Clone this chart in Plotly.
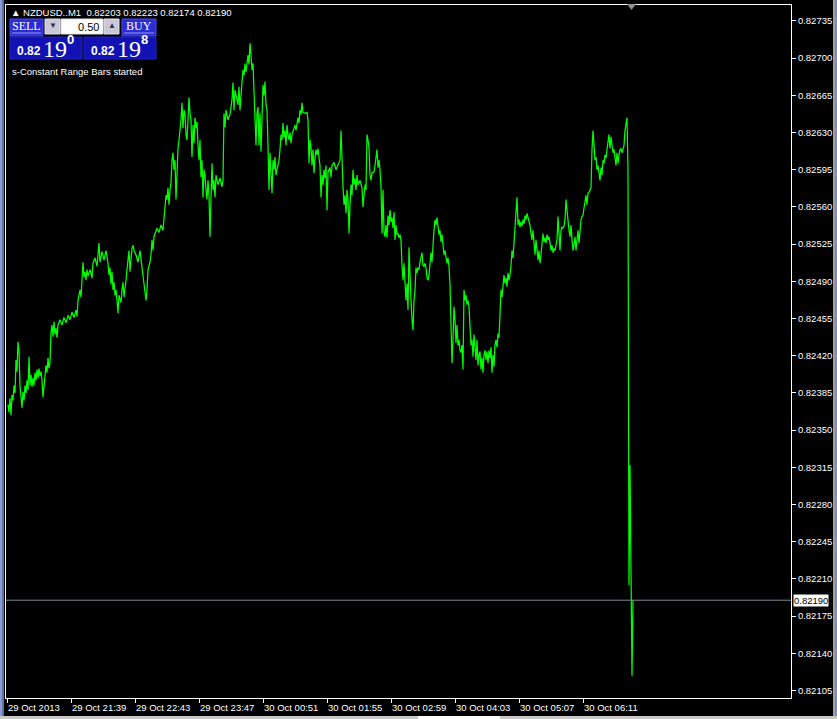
import plotly.graph_objects as go
import pandas as pd

# ---------------- data ----------------
symbol = "NZDUSD..M1"
last_bar_ohlc = [0.82203, 0.82223, 0.82174, 0.82190]   # open, high, low, close
session_start = "2013-10-29 20:35"
price_base = 0.82000          # close prices are stored in points (1e-5) above this base

minute_offset = (
    list(range(1, 44))
    + [44, 45, 46, 47, 48, 49, 50, 51, 53, 55, 57, 59, 61, 63, 65, 67, 69, 70, 71, 72, 73,
       74, 75, 76, 77, 78, 79, 80, 81, 83, 85, 86, 88, 90, 92, 93, 95, 97, 99, 101, 102]
    + list(range(103, 128))
    + [129, 131, 133, 135, 137, 139, 140, 141, 143, 144, 145, 146, 147, 148, 150, 152, 154, 156]
    + list(range(157, 210))
    + [211, 213, 215, 216, 217, 218, 219, 221, 223, 225, 226, 227, 228, 229, 231]
    + list(range(232, 251))
    + list(range(251, 297))
    + [298, 300]
    + list(range(301, 322))
    + [323, 324, 325, 327, 329, 331]
    + list(range(333, 352))
    + [353, 355]
    + list(range(356, 366))
    + list(range(367, 376))
    + list(range(376, 504))
    + list(range(504, 627))
)

close_points = (
    [374, 367, 380, 364, 383, 378, 392, 385, 416, 405, 433, 425, 392, 378, 371, 386, 378, 392,
     385, 397, 388, 419, 392, 402, 391, 399, 392, 404, 397, 407, 399, 408, 401, 405, 397, 381,
     392, 405, 411, 404, 418, 408, 414]
    + [442, 449, 438, 452, 440, 446, 437, 449, 454, 449, 456, 451, 458, 454, 461, 456, 463, 457,
       472, 477, 482, 475, 501, 508, 494, 499, 491, 501, 495, 501, 493, 507, 512, 504, 526, 508,
       518, 510, 519, 507, 496]
    + [503, 487, 499, 482, 489, 477, 482, 472, 460, 477, 472, 470, 482, 489, 475, 487, 491, 501,
       508, 519, 499, 512, 521, 524, 519]
    + [515, 508, 519, 503, 487, 472, 482, 501, 508, 515, 529, 519, 532, 535, 540, 536, 543, 538]
    + [546, 560, 571, 567, 578, 562, 576, 583, 604, 611, 595, 604, 567, 599, 615, 623, 630, 642,
       658, 634, 651, 647, 628, 623, 642, 663, 648, 642, 607, 637, 620, 644, 634, 640, 618, 604,
       623, 588, 604, 569, 595, 590, 576, 567, 585, 571, 532, 581, 601, 576, 585, 569, 590]
    + [581, 587, 579, 585, 648, 635, 651, 642, 647, 661, 677, 651, 670, 665, 656]
    + [673, 651, 665, 679, 689, 684, 695, 687, 698, 703, 694, 714, 703, 689, 695, 670, 648, 618,
       648]
    + [654, 618, 648, 612, 661, 675, 665, 678, 656, 651, 618, 576, 611, 590, 573, 604, 595, 607,
       590, 595, 599, 604, 614, 628, 623, 639, 625, 632, 618, 637, 628, 623, 630, 620, 628, 632,
       634, 637, 632, 637, 644, 639, 651, 647, 658, 649]
    + [648, 649]
    + [642, 601, 623, 616, 599, 614, 592, 606, 614, 609, 615, 607, 599, 569, 590, 581, 595, 587,
       599, 557, 593]
    + [597, 588, 599, 602, 595, 599]
    + [604, 632, 597, 579, 562, 571, 554, 576, 567, 535, 562, 581, 571, 595, 581, 587, 576, 590,
       581]
    + [585, 578]
    + [560, 571, 581, 576, 628, 623, 616, 590, 585, 592]
    + [593, 599, 609, 614, 597, 604, 595, 579, 535]
    + [576, 536, 532, 543, 531, 552, 543, 557, 546, 550, 540, 555, 529, 543, 534, 535, 531, 534,
       529, 505, 491, 507, 487, 472, 488, 463, 522, 482, 472, 454, 444, 472, 482, 503, 498, 503,
       501, 508, 515, 517, 505, 504, 507, 503, 493, 491, 496, 510, 517, 508, 529, 538, 548, 543,
       550, 540, 534, 538, 527, 534, 521, 515, 519, 510, 507, 512, 504, 487, 444, 413, 435, 466,
       454, 432, 449, 430, 435, 425, 423, 430, 407, 482, 472, 477, 468, 472, 466, 440, 430, 435,
       419, 440, 430, 416, 435, 411, 421, 424, 407, 418, 404, 421, 425, 416, 424, 413, 425, 418,
       428, 404, 421, 410, 430, 435, 428, 441, 437, 472, 482, 475, 487, 496, 488, 493, 485, 498,
       491, 496]
    + [505, 519, 512, 526, 536, 552, 569, 543, 548, 541, 546, 542, 548, 544, 552, 548, 554, 550,
       546, 543, 535, 529, 538, 524, 515, 529, 519, 510, 519, 507, 515, 529, 535, 527, 531, 526,
       534, 529, 532, 526, 519, 524, 517, 521, 519, 524, 529, 551, 534, 519, 538, 541, 540, 542,
       548, 567, 557, 543, 538, 532, 543, 529, 519, 524, 532, 519, 529, 538, 526, 543, 548, 551,
       552, 559, 567, 571, 562, 573, 574, 576, 578, 614, 632, 618, 604, 607, 595, 599, 592, 585,
       597, 590, 604, 601, 609, 606, 614, 623, 628, 615, 626, 618, 611, 614, 606, 599, 611, 601,
       609, 614, 615, 611, 614, 618, 632, 640, 644, 595, 204, 317, 218, 119, 190]
)
assert len(minute_offset) == len(close_points)

tick_times = ["2013-10-29 20:35", "2013-10-29 21:39", "2013-10-29 22:43", "2013-10-29 23:47",
              "2013-10-30 00:51", "2013-10-30 01:55", "2013-10-30 02:59", "2013-10-30 04:03",
              "2013-10-30 05:07", "2013-10-30 06:11"]
tick_labels = ["29 Oct 2013", "29 Oct 21:39", "29 Oct 22:43", "29 Oct 23:47", "30 Oct 00:51",
               "30 Oct 01:55", "30 Oct 02:59", "30 Oct 04:03", "30 Oct 05:07", "30 Oct 06:11"]
price_ticks = [0.82105, 0.82140, 0.82175, 0.82210, 0.82245, 0.82280, 0.82315, 0.82350, 0.82385,
               0.82420, 0.82455, 0.82490, 0.82525, 0.82560, 0.82595, 0.82630, 0.82665, 0.82700,
               0.82735]
price_range = [0.82098, 0.82750]
lot_size = "0.50"
sell_quote = ["0.82", "19", "0"]
buy_quote = ["0.82", "19", "8"]
status_text = "s-Constant Range Bars started"

# ---------------- build ----------------
start = pd.Timestamp(session_start)
times = [start + pd.Timedelta(minutes=m) for m in minute_offset]
prices = [price_base + p / 100000 for p in close_points]
bid = last_bar_ohlc[3]

W, H = 837, 719
L, R, T, B = 6, 46, 5, 21
PW, PH = W - L - R, H - T - B
FONT = "Liberation Sans"


def px(x):
    return (x - L) / PW


def py(y):
    return (H - B - y) / PH


fig = go.Figure()
fig.add_trace(go.Scatter(x=times, y=prices, mode="lines",
                         line=dict(color="#00ff00", width=1.25), hoverinfo="skip",
                         showlegend=False))

shapes = []
annotations = []

# bid line
shapes.append(dict(type="line", xref="paper", yref="y", x0=0, x1=1, y0=bid, y1=bid,
                   line=dict(color="#7d8b99", width=1), layer="above"))
annotations.append(dict(xref="paper", yref="y", x=1, y=bid, xanchor="left", yanchor="middle",
                        xshift=2, text=f"{bid:.5f}", showarrow=False, bgcolor="#ffffff",
                        borderpad=0, font=dict(family=FONT, size=9.5, color="#000000")))

# x tick labels (left aligned at their ticks)
for t, lab in zip(tick_times, tick_labels):
    annotations.append(dict(xref="x", yref="paper", x=t, y=0, xanchor="left", yanchor="top",
                            yshift=-2, xshift=-1, text=lab, showarrow=False,
                            font=dict(family=FONT, size=9.5, color="#ffffff")))

# header
o, h, lo, c = last_bar_ohlc
annotations.append(dict(xref="paper", yref="paper", x=px(9), y=py(13), xanchor="left",
                        yanchor="middle", showarrow=False,
                        text=f"▲ {symbol}  {o:.5f} {h:.5f} {lo:.5f} {c:.5f}",
                        font=dict(family=FONT, size=9.5, color="#ffffff")))


def rect(x0, y0, x1, y1, fill, line=None):
    shapes.append(dict(type="rect", xref="paper", yref="paper", x0=px(x0), x1=px(x1),
                       y0=py(y1), y1=py(y0), fillcolor=fill,
                       line=dict(width=1 if line else 0, color=line or fill), layer="above"))


def text(x, y, s, size, color="#ffffff", family=FONT, anchor="left", bold=False):
    if bold:
        s = f"<b>{s}</b>"
    annotations.append(dict(xref="paper", yref="paper", x=px(x), y=py(y), xanchor=anchor,
                            yanchor="middle", text=s, showarrow=False,
                            font=dict(family=family, size=size, color=color)))


# one-click trading panel
rect(10, 19, 43, 36, "#2c2cd4", "#4a4af0")
shapes.append(dict(type="line", xref="paper", yref="paper", x0=px(12), x1=px(41), y0=py(33),
                   y1=py(33), line=dict(color="#9c9cf0", width=1), layer="above"))
text(26.5, 26, "SELL", 12, family="Liberation Serif", anchor="center")
rect(45, 19, 60, 34, "#c8c8d8", "#e0e0ec")
text(52.5, 26, "▼", 8, color="#303050", anchor="center")
rect(61, 19, 103, 34, "#ffffff", "#e0e0e0")
text(101, 26.5, lot_size, 11, color="#000000", anchor="right")
rect(104, 19, 119, 34, "#c8c8d8", "#e0e0ec")
text(111.5, 26, "▲", 8, color="#303050", anchor="center")
rect(122, 19, 156, 36, "#2c2cd4", "#4a4af0")
shapes.append(dict(type="line", xref="paper", yref="paper", x0=px(124), x1=px(154), y0=py(33),
                   y1=py(33), line=dict(color="#9c9cf0", width=1), layer="above"))
text(139, 26, "BUY", 12, family="Liberation Serif", anchor="center")

for bx, quote in ((10, sell_quote), (84, buy_quote)):
    rect(bx, 37, bx + 72, 59, "#1212b4", "#2020c8")
    text(bx + 5, 51, quote[0], 12, bold=True)
    text(bx + 31, 49, quote[1], 24, family="Liberation Serif")
    text(bx + 55, 40, quote[2], 13, bold=True)

text(10, 71, status_text, 9.5)

# chart shift marker
shapes.append(dict(type="path", xref="paper", yref="paper",
                   path=f"M {px(627)} {py(4)} L {px(636)} {py(4)} L {px(631.5)} {py(10)} Z",
                   fillcolor="#909090", line=dict(width=0), layer="above"))

# window borders
rect(0, 0, 2, 719, "#8a9ad0")
rect(2, 0, 4, 719, "#6070a8")
rect(833, 0, 835, 719, "#a0a0a0")
rect(835, 0, 837, 719, "#7a8ac8")
rect(0, 716, 837, 719, "#c8c8c8")
rect(418, 716, 500, 719, "#ffffff")

fig.update_layout(
    width=W, height=H,
    margin=dict(l=L, r=R, t=T, b=B, pad=0, autoexpand=False),
    paper_bgcolor="#000000", plot_bgcolor="#000000",
    showlegend=False,
    xaxis=dict(type="date",
               range=[start - pd.Timedelta(minutes=1), start + pd.Timedelta(minutes=784)],
               tickvals=tick_times, showticklabels=False, ticks="outside", ticklen=4,
               tickcolor="#ffffff", showline=True, mirror=True, linecolor="#ffffff",
               linewidth=1, showgrid=False, zeroline=False, fixedrange=True, automargin=False),
    yaxis=dict(range=price_range, side="right", tickvals=price_ticks,
               ticktext=[f"{v:.5f}" for v in price_ticks], ticks="outside", ticklen=4,
               tickcolor="#ffffff", tickfont=dict(family=FONT, size=9.5, color="#ffffff"),
               showline=True, mirror=True, linecolor="#ffffff", linewidth=1,
               showgrid=False, zeroline=False, fixedrange=True, automargin=False),
    shapes=shapes,
    annotations=annotations,
)

fig.write_html(
    "out.html",
    config={"displayModeBar": False},
    post_script="document.body.style.margin='0';document.body.style.overflow='hidden';"
                "document.body.style.background='#000';",
)
